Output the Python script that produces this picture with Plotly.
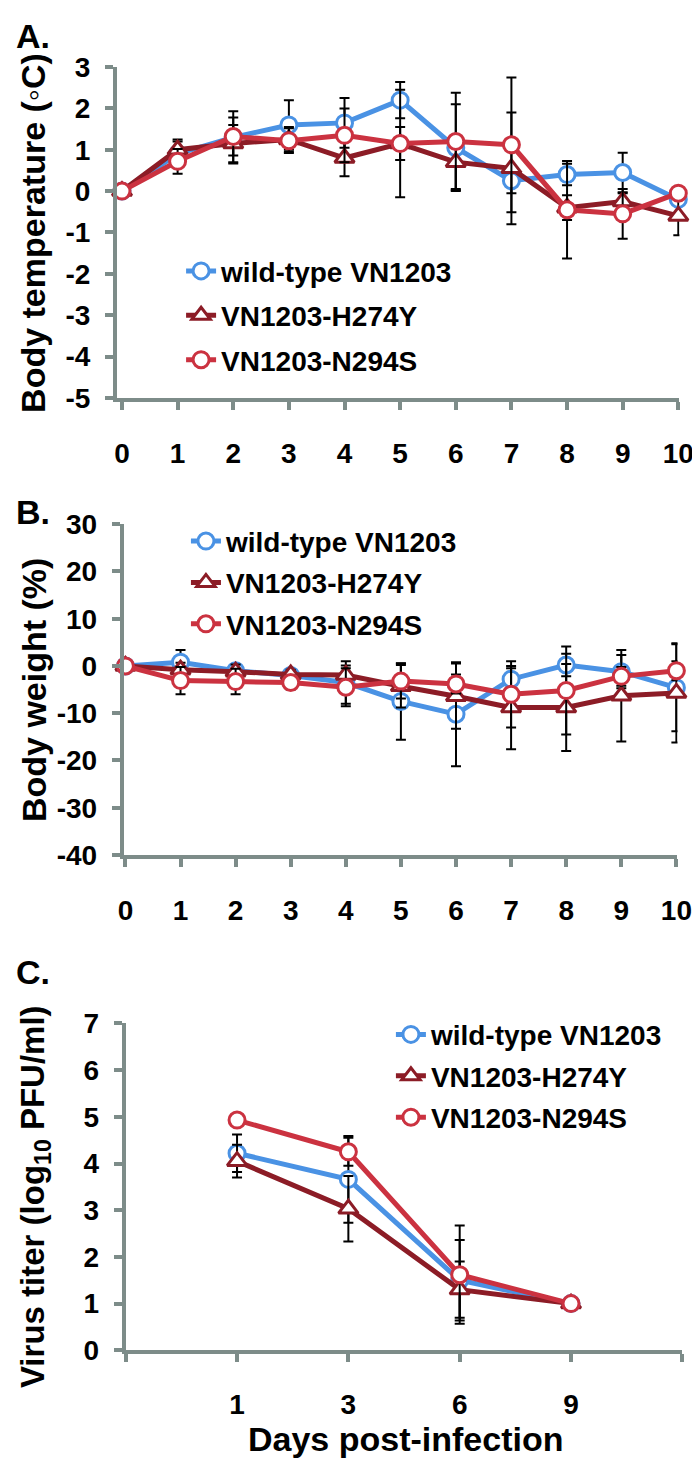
import plotly.graph_objects as go

# ---------------- data ----------------
series_names = ["wild-type VN1203", "VN1203-H274Y", "VN1203-N294S"]

days_ab = [0, 1, 2, 3, 4, 5, 6, 7, 8, 9, 10]

temp_wt = [0, 0.9, 1.3, 1.6, 1.65, 2.2, 1.05, 0.25, 0.4, 0.45, -0.2]
temp_h274y = [0, 1.0, 1.15, 1.25, 0.8, 1.15, 0.7, 0.55, -0.4, -0.25, -0.6]
temp_n294s = [0, 0.72, 1.32, 1.22, 1.35, 1.15, 1.2, 1.12, -0.45, -0.55, -0.05]
temp_wt_err = [0, 0.3, 0.63, 0.6, 0.6, 0.44, 1.05, 0.3, 0.26, 0.48, 0.15]
temp_h274y_err = [0, 0.25, 0.45, 0.3, 0.44, 0.4, 0.65, 1.35, 0.3, 0.2, 0.47]
temp_n294s_err = [0, 0.3, 0.46, 0.3, 0.65, 1.3, 1.18, 1.63, 1.18, 0.6, 0.15]

weight_wt = [0, 0.8, -1.0, -2.0, -3.5, -7.5, -10.2, -2.8, 0.2, -1.2, -4.6]
weight_h274y = [0, -0.8, -1.2, -1.8, -1.9, -4.3, -6.4, -8.8, -8.8, -6.3, -5.7]
weight_n294s = [0, -3.1, -3.3, -3.5, -4.5, -3.2, -3.8, -6.0, -5.2, -2.2, -1.0]
weight_wt_err = [0, 2.6, 1.2, 1.0, 4.5, 8.1, 11.0, 2.3, 2.4, 3.5, 9.2]
weight_h274y_err = [0, 1.5, 1.5, 1.0, 2.0, 4.5, 6.9, 8.8, 9.2, 9.7, 10.5]
weight_n294s_err = [0, 2.9, 2.7, 1.5, 4.0, 3.7, 2.0, 7.0, 9.3, 2.0, 2.0]

days_c = ["1", "3", "6", "9"]
titer_wt = [4.22, 3.66, 1.5, 1.0]
titer_h274y = [4.05, 3.03, 1.3, 1.0]
titer_n294s = [4.93, 4.25, 1.62, 1.0]
titer_wt_err = [0.4, 0.93, 0.86, 0]
titer_h274y_err = [0.35, 0.7, 0.6, 0]
titer_n294s_err = [0, 0.3, 1.05, 0]

ticks_a = [3, 2, 1, 0, -1, -2, -3, -4, -5]
tick_labels_a = ["3", "2", "1", "0", "-1", "-2", "-3", "-4", "-5"]
ticks_b = [30, 20, 10, 0, -10, -20, -30, -40]
tick_labels_b = ["30", "20", "10", "0", "-10", "-20", "-30", "-40"]
ticks_c = [0, 1, 2, 3, 4, 5, 6, 7]
tick_labels_c = ["0", "1", "2", "3", "4", "5", "6", "7"]

# ---------------- styles ----------------
W, H = 700, 1466
BLUE = "rgb(74,146,228)"
DARK = "rgb(140,28,38)"
RED = "rgb(203,50,64)"
GRAY = "rgb(125,140,137)"
FONT = "Liberation Sans, Arial, sans-serif"
colors = [BLUE, DARK, RED]
symbols = ["circle", "triangle-up", "circle"]


def py(px):
    return 1 - px / H


def px_(px):
    return px / W


fig = go.Figure()


def add_panel(xs, ys_list, errs_list, xa, ya, legend):
    for name, ys, errs, col, sym in zip(series_names, ys_list, errs_list, colors, symbols):
        fig.add_trace(go.Scatter(
            x=xs, y=ys, name=name, mode="lines+markers",
            line=dict(color=col, width=5),
            marker=dict(symbol=sym, size=16 if sym == "circle" else 17, color="white",
                        line=dict(color=col, width=3)),
            error_y=dict(type="data", array=errs, color="black", thickness=2, width=5),
            cliponaxis=False, xaxis=xa, yaxis=ya, legend=legend,
            legendgroup=legend + name,
        ))


add_panel(days_ab, [temp_wt, temp_h274y, temp_n294s],
          [temp_wt_err, temp_h274y_err, temp_n294s_err], "x", "y", "legend")
add_panel(days_ab, [weight_wt, weight_h274y, weight_n294s],
          [weight_wt_err, weight_h274y_err, weight_n294s_err], "x2", "y2", "legend2")
xc = list(range(1, len(days_c) + 1))
add_panel(xc, [titer_wt, titer_h274y, titer_n294s],
          [titer_wt_err, titer_h274y_err, titer_n294s_err], "x3", "y3", "legend3")

tickfont = dict(family=FONT, size=28, color="black", weight="bold")
common_axis = dict(showline=True, linecolor=GRAY, linewidth=4, ticks="outside",
                   ticklen=8, tickwidth=4, tickcolor=GRAY, showgrid=False,
                   zeroline=False, tickfont=tickfont, fixedrange=True)

legend_common = dict(font=dict(family=FONT, size=28, color="black", weight="bold"),
                     bgcolor="rgba(0,0,0,0)", xanchor="left", yanchor="top",
                     itemwidth=30, traceorder="grouped")

fig.update_layout(
    width=W, height=H, margin=dict(l=0, r=0, t=0, b=0),
    paper_bgcolor="white", plot_bgcolor="white",
    font=dict(family=FONT, color="black"),
    xaxis=dict(common_axis, domain=[px_(106), px_(685)], range=[-0.09, 10.02],
               tickvals=days_ab, anchor="y", ticklabelstandoff=19),
    yaxis=dict(common_axis, domain=[py(383), py(45)], range=[-5, 3],
               tickvals=ticks_a, ticktext=tick_labels_a, anchor="x", ticklabelstandoff=9),
    xaxis2=dict(common_axis, domain=[px_(113), px_(683)], range=[-0.03, 10.02],
                tickvals=days_ab, anchor="y2", ticklabelstandoff=19),
    yaxis2=dict(common_axis, domain=[py(850), py(512)], range=[-40, 30],
                tickvals=ticks_b, ticktext=tick_labels_b, anchor="x2", ticklabelstandoff=9),
    xaxis3=dict(common_axis, domain=[px_(115), px_(688)], range=[0, len(days_c) + 1],
                tickvals=xc, ticktext=days_c, anchor="y3", ticklabelstandoff=18,
                minor=dict(tickvals=list(range(0, len(days_c) + 2)), ticks="outside",
                           ticklen=8, tickwidth=4, tickcolor=GRAY, showgrid=False)),
    yaxis3=dict(common_axis, domain=[py(1356), py(1022)], range=[0, 7],
                tickvals=ticks_c, ticktext=tick_labels_c, anchor="x3", ticklabelstandoff=9),
    legend=dict(legend_common, x=px_(172), y=py(228), tracegroupgap=5),
    legend2=dict(legend_common, x=px_(177), y=py(504), tracegroupgap=2),
    legend3=dict(legend_common, x=px_(388), y=py(1008), tracegroupgap=2),
)

title_font = dict(family=FONT, size=34, color="black", weight="bold")
annos = [
    dict(text="A.", x=0, y=py(13), xanchor="left", yanchor="middle"),
    dict(text="B.", x=0, y=py(500), xanchor="left", yanchor="middle"),
    dict(text="C.", x=0, y=py(970), xanchor="left", yanchor="middle"),
    dict(text="Body temperature (◦C)", x=px_(20), y=py(214), textangle=-90,
         xanchor="center", yanchor="middle"),
    dict(text="Body weight (%)", x=px_(20), y=py(681), textangle=-90,
         xanchor="center", yanchor="middle"),
    dict(text="Virus titer (log<sub>10</sub> PFU/ml)", x=px_(21), y=py(1199), textangle=-90,
         xanchor="center", yanchor="middle", font=dict(family=FONT, size=33, color="black", weight="bold")),
    dict(text="Days post-infection", x=px_(403), y=py(1447), xanchor="center",
         yanchor="middle"),
]
for a in annos:
    f = a.pop("font", title_font)
    fig.add_annotation(xref="paper", yref="paper", showarrow=False, font=f, **a)

fig.write_html("out.html")
